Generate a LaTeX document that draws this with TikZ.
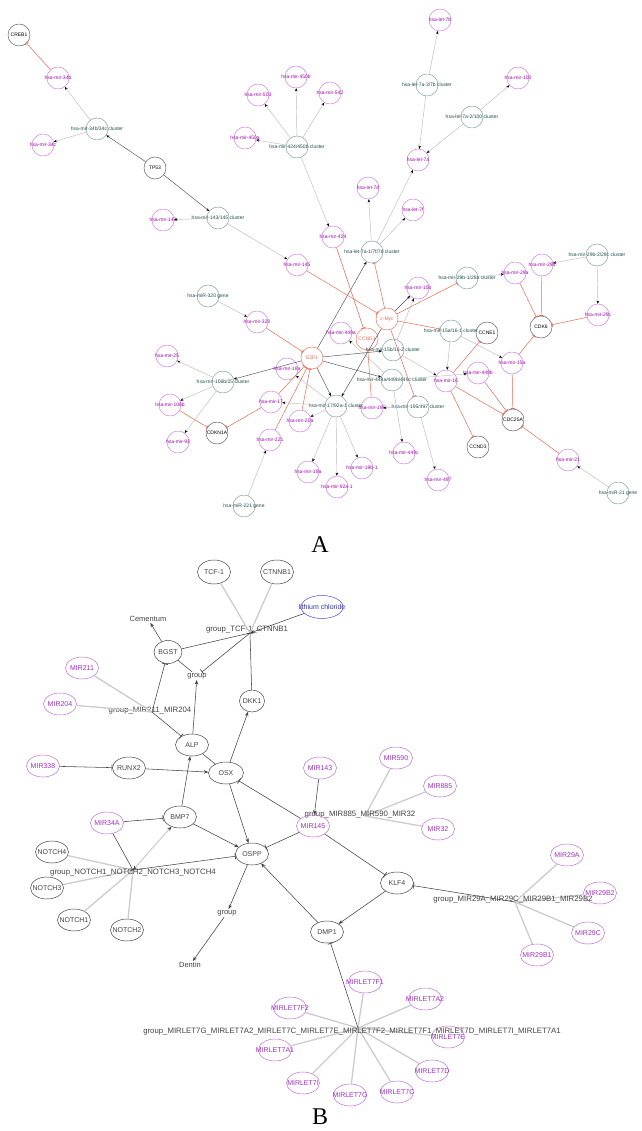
\documentclass[tikz,border=0pt]{standalone}
\usepackage{fontspec}
\setmainfont{Liberation Sans}
\newfontfamily\serifab{Liberation Serif}
\usetikzlibrary{arrows.meta,shapes.geometric}
\definecolor{mircA}{HTML}{CC77DD}
\definecolor{mirtA}{HTML}{A000B0}
\definecolor{clucA}{HTML}{7A9A98}
\definecolor{clutA}{HTML}{1D4D4A}
\definecolor{gencA}{HTML}{555555}
\definecolor{redA}{HTML}{E86A55}
\definecolor{actA}{HTML}{505050}
\definecolor{memA}{HTML}{BBBBBB}
\definecolor{genB}{HTML}{444444}
\definecolor{mircB}{HTML}{C070D0}
\definecolor{mirtB}{HTML}{A030C0}
\definecolor{bluB}{HTML}{5050D0}
\definecolor{blutB}{HTML}{3030B0}
\definecolor{memB}{HTML}{CCCCCC}
\begin{document}
\begin{tikzpicture}[x=1pt,y=-1pt,
  fA/.style={font=\fontsize{5}{5}\selectfont,inner sep=0pt},
  nA/.style={circle,minimum size=22pt,inner sep=0pt,line width=0.45pt},
  mirA/.style={nA,draw=mircA,label={[fA,text=mirtA]center:#1}},
  cluA/.style={nA,draw=clucA,label={[fA,text=clutA]center:#1}},
  genA/.style={nA,draw=gencA,label={[fA,text=black]center:#1}},
  redN/.style={nA,draw=redA,label={[fA,text=redA]center:#1}},
  actE/.style={draw=actA,line width=0.45pt,-{Stealth[length=3.2pt,width=2.6pt,color=black]}},
  memE/.style={draw=memA,line width=0.45pt,-{Stealth[length=3.2pt,width=2.6pt,color=black]}},
  inhE/.style={draw=redA,line width=0.5pt,-{Bar[width=4.5pt,line width=0.6pt]}},
  fB/.style={font=\fontsize{7}{7}\selectfont,inner sep=0pt},
  nB/.style={ellipse,minimum width=33pt,minimum height=22pt,inner sep=0pt,line width=0.5pt},
  genBn/.style={nB,draw=genB,label={[fB,text=genB]center:#1}},
  mirBn/.style={nB,draw=mircB,label={[fB,text=mirtB]center:#1}},
  txtB/.style={inner sep=1pt,font=\fontsize{7.5}{7.5}\selectfont,text=genB},
  grpB/.style={inner sep=0pt,font=\fontsize{7.8}{7.8}\selectfont,text=genB},
  actB/.style={draw=genB,line width=0.55pt,-{Stealth[length=4.5pt,width=3.5pt]}},
  inhB/.style={draw=genB,line width=0.55pt,-{Bar[width=6pt,line width=0.7pt]}},
  lnB/.style={draw=genB,line width=0.55pt},
  memBe/.style={draw=memB,line width=1.3pt},
  panel/.style={font=\serifab\fontsize{24}{24}\selectfont,inner sep=0pt}
]
\useasboundingbox (0,0) rectangle (641,1131);
\fill[white] (0,0) rectangle (641,1131);

%%%%%%%%%%%%%%%% PANEL A %%%%%%%%%%%%%%%%
\node[genA=CREB1] (CREB1) at (19,35) {};
\node[mirA=hsa-mir-34b] (mir34b) at (58,78) {};
\node[cluA=hsa-mir-34b/34c cluster] (cl34) at (97,129) {};
\node[mirA=hsa-mir-34c] (mir34c) at (43,145) {};
\node[genA=TP53] (TP53) at (155,168) {};
\node[cluA=hsa-mir-143/145 cluster] (cl143) at (218,218) {};
\node[mirA=hsa-mir-143] (mir143) at (163,220) {};
\node[mirA=hsa-mir-503] (mir503) at (258,95) {};
\node[mirA=hsa-mir-450b] (mir450b) at (296,77) {};
\node[mirA=hsa-mir-542] (mir542) at (330,93) {};
\node[mirA=hsa-mir-450a] (mir450a) at (245,138) {};
\node[cluA=hsa-mir-424/450b cluster] (cl424) at (297,147) {};
\node[mirA=hsa-let-7b] (let7b) at (440,20) {};
\node[cluA=hsa-let-7a-3/7b cluster] (cl7a3) at (427,85) {};
\node[mirA=hsa-mir-100] (mir100) at (518,78) {};
\node[cluA=hsa-let-7a-2/100 cluster] (cl100) at (472,117) {};
\node[mirA=hsa-let-7a] (let7a) at (418,160) {};
\node[mirA=hsa-let-7d] (let7d) at (368,188) {};
\node[mirA=hsa-let-7f] (let7f) at (413,210) {};
\node[mirA=hsa-mir-424] (mir424) at (333,237) {};
\node[cluA=hsa-let-7a-1/7f/7d cluster] (cl7a1) at (372,252) {};
\node[mirA=hsa-mir-145] (mir145) at (297,265) {};
\node[cluA=hsa-miR-320 gene] (cl320) at (208,296) {};
\node[mirA=hsa-mir-320] (mir320) at (257,322) {};
\node[mirA=hsa-mir-449a] (mir449a) at (341,333) {};
\node[redN=CCND1] (CCND1) at (367,339) {};
\node[redN=c-Myc] (cMyc) at (387,319) {};
\node[redN=E2F1] (E2F1) at (312,358) {};
\node[mirA=hsa-mir-18a] (mir18a) at (287,369) {};
\node[cluA=hsa-mir-106b/25 cluster] (cl106) at (223,382) {};
\node[mirA=hsa-mir-25] (mir25) at (167,356) {};
\node[mirA=hsa-mir-15b] (mir15b) at (418,288) {};
\node[cluA=hsa-mir-29b-1/29a cluster] (cl29a) at (467,278) {};
\node[mirA=hsa-mir-29a] (mir29a) at (515,273) {};
\node[mirA=hsa-mir-29b] (mir29b) at (542,265) {};
\node[cluA=hsa-mir-29b-2/29c cluster] (cl29c) at (597,255) {};
\node[mirA=hsa-mir-29c] (mir29c) at (598,315) {};
\node[genA=CDK6] (CDK6) at (541,327) {};
\node[cluA=hsa-mir-15b/16-2 cluster] (cl15b) at (393,350) {};
\node[cluA=hsa-mir-15a/16-1 cluster] (cl15a) at (451,331) {};
\node[genA=CCNE1] (CCNE1) at (487,333) {};
\node[mirA=hsa-mir-15a] (mir15a) at (512,363) {};
\node[mirA=hsa-mir-16] (mir16) at (446,381) {};
\node[mirA=hsa-mir-449b] (mir449b) at (478,373) {};
\node[cluA=hsa-mir-449a/449b/449c cluster] (cl449) at (392,380) {};
\node[genA=CDC25A] (CDC25A) at (513,420) {};
\node[cluA=hsa-mir-195/497 cluster] (cl195) at (418,407) {};
\node[mirA=hsa-mir-195] (mir195) at (372,408) {};
\node[mirA=hsa-mir-497] (mir497) at (438,480) {};
\node[genA=CCND3] (CCND3) at (478,447) {};
\node[mirA=hsa-mir-449c] (mir449c) at (404,453) {};
\node[mirA=hsa-mir-21] (mir21) at (568,460) {};
\node[cluA=hsa-miR-21 gene] (cl21) at (618,493) {};
\node[mirA=hsa-mir-106b] (mir106b) at (170,405) {};
\node[mirA=hsa-mir-93] (mir93) at (178,442) {};
\node[genA=CDKN1A] (CDKN1A) at (217,433) {};
\node[mirA=hsa-mir-17] (mir17) at (271,402) {};
\node[mirA=hsa-mir-20a] (mir20a) at (300,421) {};
\node[mirA=hsa-mir-221] (mir221) at (270,440) {};
\node[cluA=hsa-miR-221 gene] (cl221) at (244,506) {};
\node[cluA=hsa-mir-17/92a-1 cluster] (cl1792) at (336,406) {};
\node[mirA=hsa-mir-19a] (mir19a) at (308,472) {};
\node[mirA=hsa-mir-92a-1] (mir92a) at (337,487) {};
\node[mirA=hsa-mir-19b-1] (mir19b) at (362,468) {};

% membership (cluster -> miRNA)
\foreach \a/\b in {cl34/mir34b,cl34/mir34c,cl143/mir143,cl143/mir145,
  cl424/mir503,cl424/mir450b,cl424/mir542,cl424/mir450a,cl424/mir424,
  cl7a3/let7b,cl7a3/let7a,cl100/mir100,cl100/let7a,
  cl7a1/let7a,cl7a1/let7d,cl7a1/let7f,cl320/mir320,
  cl106/mir25,cl106/mir106b,cl106/mir93,
  cl1792/mir17,cl1792/mir18a,cl1792/mir20a,cl1792/mir19a,cl1792/mir92a,cl1792/mir19b,
  cl221/mir221,cl195/mir195,cl195/mir497,
  cl449/mir449a,cl449/mir449b,cl449/mir449c,
  cl15a/mir16,cl15a/mir15a,cl15b/mir15b,cl15b/mir16,
  cl29a/mir29a,cl29c/mir29b,cl29c/mir29c,cl21/mir21}
  \draw[memE] (\a) -- (\b);
% activation
\foreach \a/\b in {TP53/cl34,TP53/cl143,E2F1/cl7a1,E2F1/cl1792,cMyc/cl1792,
  E2F1/cl15b,E2F1/cl449,E2F1/cl106,cMyc/mir15b}
  \draw[actE] (\a) -- (\b);
% inhibition
\foreach \a/\b in {mir34b/CREB1,mir424/CCND1,mir145/cMyc,mir320/E2F1,
  cMyc/cl7a1,cMyc/cl29a,cMyc/cl15a,cMyc/cl195,
  mir106b/CDKN1A,mir17/CDKN1A,mir17/E2F1,mir20a/E2F1,mir221/E2F1,
  mir195/CCND1,mir16/CCNE1,mir16/CDC25A,mir16/CCND3,
  mir15a/CDK6,mir15a/CDC25A,mir449b/CDC25A,
  mir29a/CDK6,mir29b/CDK6,mir29c/CDK6,mir21/CDC25A}
  \draw[inhE] (\a) -- (\b);

\node[panel] (labA) at (320,545) {A};

%%%%%%%%%%%%%%%% PANEL B %%%%%%%%%%%%%%%%
\node[genBn=TCF-1,minimum height=24pt] (TCF) at (214,572) {};
\node[genBn=CTNNB1,minimum height=24pt] (CTNNB1) at (277,572) {};
\node[nB,draw=bluB,minimum width=42pt,minimum height=23pt,label={[fB,text=blutB]center:lithium chloride}] (LiCl) at (322,607) {};
\node[txtB] (Cem) at (148,619) {Cementum};
\coordinate (hubT) at (250,633);
\node[grpB] (hubTl) at (247,630) {group\_TCF-1\_CTNNB1};
\node[genBn=BGST,minimum width=28pt,minimum height=23pt] (BGST) at (168,652) {};
\node[txtB] (grp1) at (197,676) {group};
\node[genBn=DKK1,minimum width=25pt,minimum height=22pt] (DKK1) at (252,701) {};
\node[mirBn=MIR211] (MIR211) at (82,668) {};
\node[mirBn=MIR204] (MIR204) at (60,704) {};
\coordinate (hub211) at (152,712);
\node[grpB] (hub211l) at (150,711) {group\_MIR211\_MIR204};
\node[genBn=ALP] (ALP) at (192,745) {};
\node[mirBn=MIR338] (MIR338) at (43,766) {};
\node[genBn=RUNX2] (RUNX2) at (129,768) {};
\node[genBn=OSX,minimum width=35pt] (OSX) at (226,773) {};
\node[mirBn=MIR143] (MIR143) at (320,768) {};
\node[genBn=BMP7] (BMP7) at (180,817) {};
\node[mirBn=MIR34A] (MIR34A) at (107,823) {};
\node[genBn=OSPP] (OSPP) at (252,854) {};
\node[mirBn=MIR590] (MIR590) at (396,758) {};
\node[mirBn=MIR885] (MIR885) at (440,786) {};
\node[mirBn=MIR32] (MIR32) at (438,829) {};
\coordinate (hub885) at (365,816);
\node[genBn=KLF4] (KLF4) at (397,883) {};
\node[genBn=DMP1] (DMP1) at (327,932) {};
\node[mirBn=MIR29A] (MIR29A) at (567,855) {};
\node[mirBn=MIR29B2] (MIR29B2) at (600,893) {};
\node[mirBn=MIR29C] (MIR29C) at (588,933) {};
\node[mirBn=MIR29B1] (MIR29B1) at (537,955) {};
\coordinate (hub29) at (515,902);
\node[genBn=NOTCH4] (NOTCH4) at (52,852) {};
\node[genBn=NOTCH3] (NOTCH3) at (47,888) {};
\node[genBn=NOTCH1] (NOTCH1) at (74,920) {};
\node[genBn=NOTCH2] (NOTCH2) at (127,930) {};
\coordinate (hubN) at (133,870);
\node[txtB] (grp2) at (227,913) {group};
\node[txtB] (Dentin) at (190,965) {Dentin};
\node[mirBn=MIRLET7F1] (L7F1) at (365,982) {};
\node[mirBn=MIRLET7A2] (L7A2) at (425,999) {};
\node[mirBn=MIRLET7F2] (L7F2) at (290,1008) {};
\node[mirBn=MIRLET7E] (L7E) at (448,1037) {};
\node[mirBn=MIRLET7A1] (L7A1) at (275,1050) {};
\node[mirBn=MIRLET7D] (L7D) at (432,1071) {};
\node[mirBn=MIRLET7C] (L7C) at (397,1092) {};
\node[mirBn=MIRLET7G] (L7G) at (350,1095) {};
\node[mirBn=MIRLET7I] (L7I) at (303,1083) {};
\coordinate (hubL) at (358,1028);

% membership lines
\foreach \a/\h in {TCF/hubT,CTNNB1/hubT,MIR211/hub211,MIR204/hub211,
  MIR590/hub885,MIR885/hub885,MIR32/hub885,
  MIR29A/hub29,MIR29B2/hub29,MIR29C/hub29,MIR29B1/hub29,
  NOTCH4/hubN,NOTCH3/hubN,NOTCH1/hubN,NOTCH2/hubN,
  L7F1/hubL,L7A2/hubL,L7F2/hubL,L7E/hubL,L7A1/hubL,L7D/hubL,L7C/hubL,L7G/hubL,L7I/hubL}
  \draw[memBe] (\a) -- (\h);

% group labels
\node[grpB] (hub885l) at (360,815) {group\_MIR885\_MIR590\_MIR32};
\node[grpB] (hub29l) at (513,900) {group\_MIR29A\_MIR29C\_MIR29B1\_MIR29B2};
\node[grpB] (hubNl) at (133,873) {group\_NOTCH1\_NOTCH2\_NOTCH3\_NOTCH4};
\node[grpB] (hubLl) at (352,1032) {group\_MIRLET7G\_MIRLET7A2\_MIRLET7C\_MIRLET7E\_MIRLET7F2\_MIRLET7F1\_MIRLET7D\_MIRLET7I\_MIRLET7A1};
\node[mirBn=MIR145] (MIR145) at (313,826) {};

% dark edges
\draw[actB] (LiCl) -- (hubT);
\draw[actB] (BGST) -- (Cem);
\draw[lnB] (hubT) -- (BGST);
\draw[inhB] (hubT) -- (grp1);
\draw[lnB] (BGST) -- (grp1);
\draw[inhB] (DKK1) -- (hubT);
\draw[actB] (OSX) -- (DKK1);
\draw[actB] (ALP) -- (grp1);
\draw[inhB] (hub211) -- (BGST);
\draw[inhB] (hub211) -- (ALP);
\draw[inhB] (MIR338) -- (RUNX2);
\draw[actB] (RUNX2) -- (OSX);
\draw[lnB] (ALP) -- (OSX);
\draw[actB] (BMP7) -- (ALP);
\draw[actB] (BMP7) -- (OSPP);
\draw[actB] (OSX) -- (OSPP);
\draw[actB] (MIR143) -- (MIR145);
\draw[inhB] (MIR145) -- (OSX);
\draw[inhB] (MIR145) -- (OSPP);
\draw[inhB] (MIR145) -- (KLF4);
\draw[actB] (KLF4) -- (DMP1);
\draw[actB] (DMP1) -- (OSPP);
\draw[inhB] (hub29) -- (KLF4);
\draw[actB] (OSPP) -- (grp2);
\draw[actB] (grp2) -- (Dentin);
\draw[inhB] (MIR34A) -- (BMP7);
\draw[inhB] (MIR34A) -- (hubN);
\draw[draw=memB,line width=1pt,{Stealth[length=4.5pt,width=3.5pt,color=genB]}-{Stealth[length=4.5pt,width=3.5pt,color=genB]}] (hubN) -- (BMP7);
\draw[inhB] (hubN) -- (OSPP);
\draw[inhB] (hubL) -- (DMP1);

\node[panel] (labB) at (320,1117) {B};
\end{tikzpicture}
\end{document}
